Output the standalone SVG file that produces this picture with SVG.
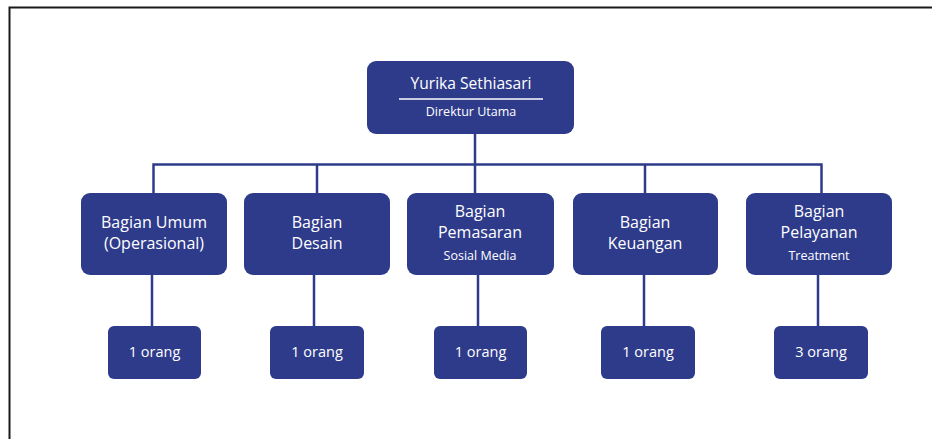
<svg xmlns="http://www.w3.org/2000/svg" width="932" height="439" viewBox="0 0 932 439">
<style>
.box{fill:#2e3b8b}
.ln{stroke:#2e3b8b;stroke-width:2.5;fill:none}
.t{fill:#ffffff;font-family:"Open Sans","Liberation Sans",sans-serif;text-anchor:middle}
.big{font-size:16px}
.top{font-size:15.6px}
.num{font-size:14.5px}
.sm{font-size:12.5px}
</style>
<rect x="0" y="0" width="932" height="439" fill="#ffffff"/>
<path d="M9.5 439 V7.5 H932" stroke="#1a1a1a" stroke-width="2" fill="none"/>
<g id="connectors">
<path class="ln" d="M475 134 V164.5"/>
<path class="ln" d="M153.5 193 V164.5 H821.5 V193"/>
<path class="ln" d="M317 164.5 V193"/>
<path class="ln" d="M645 164.5 V193"/>
<path class="ln" d="M475 164.5 V193"/>
<path class="ln" d="M152 275 V326"/>
<path class="ln" d="M314 275 V326"/>
<path class="ln" d="M478 275 V326"/>
<path class="ln" d="M644 275 V326"/>
<path class="ln" d="M818 275 V326"/>
</g>
<g id="n-direktur">
<rect class="box" x="367" y="61" width="207" height="73" rx="9"/>
<text class="t top" x="471" y="89">Yurika Sethiasari</text>
<line x1="399" y1="99" x2="543" y2="99" stroke="#ffffff" stroke-width="1.5"/>
<text class="t sm" x="471" y="116">Direktur Utama</text>
</g>
<g id="n-umum">
<rect class="box" x="81" y="193" width="146" height="82" rx="9"/>
<text class="t big" x="154" y="228">Bagian Umum</text>
<text class="t big" x="154" y="249">(Operasional)</text>
</g>
<g id="n-desain">
<rect class="box" x="244" y="193" width="146" height="82" rx="9"/>
<text class="t big" x="317" y="228">Bagian</text>
<text class="t big" x="317" y="249">Desain</text>
</g>
<g id="n-pemasaran">
<rect class="box" x="407" y="193" width="147" height="82" rx="9"/>
<text class="t big" x="480" y="217">Bagian</text>
<text class="t big" x="480" y="238">Pemasaran</text>
<text class="t sm" x="480" y="260">Sosial Media</text>
</g>
<g id="n-keuangan">
<rect class="box" x="573" y="193" width="145" height="82" rx="9"/>
<text class="t big" x="645" y="228">Bagian</text>
<text class="t big" x="645" y="249">Keuangan</text>
</g>
<g id="n-pelayanan">
<rect class="box" x="746" y="193" width="146" height="82" rx="9"/>
<text class="t big" x="819" y="217">Bagian</text>
<text class="t big" x="819" y="238">Pelayanan</text>
<text class="t sm" x="819" y="260">Treatment</text>
</g>
<g id="n-umum-orang">
<rect class="box" x="108" y="326" width="93" height="53" rx="6"/>
<text class="t num" x="154.5" y="357">1 orang</text>
</g>
<g id="n-desain-orang">
<rect class="box" x="270" y="326" width="94" height="53" rx="6"/>
<text class="t num" x="317" y="357">1 orang</text>
</g>
<g id="n-pemasaran-orang">
<rect class="box" x="434" y="326" width="93" height="53" rx="6"/>
<text class="t num" x="480.5" y="357">1 orang</text>
</g>
<g id="n-keuangan-orang">
<rect class="box" x="601" y="326" width="94" height="53" rx="6"/>
<text class="t num" x="648" y="357">1 orang</text>
</g>
<g id="n-pelayanan-orang">
<rect class="box" x="774" y="326" width="94" height="53" rx="6"/>
<text class="t num" x="821" y="357">3 orang</text>
</g>
</svg>
